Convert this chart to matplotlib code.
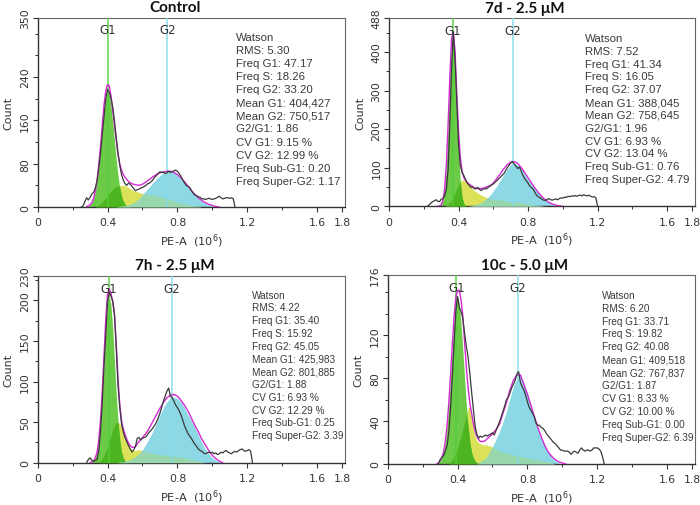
import numpy as np
import matplotlib
matplotlib.use('Agg')
import matplotlib.pyplot as plt
from matplotlib import font_manager
from matplotlib.ticker import MultipleLocator

# grid of the Watson model curves (PE-A, 10^6)
cx = [0.28, 0.29, 0.30, 0.31, 0.32, 0.33, 0.34, 0.35, 0.36, 0.37,
      0.38, 0.39, 0.40, 0.41, 0.42, 0.43, 0.44, 0.45, 0.46, 0.47,
      0.48, 0.49, 0.50, 0.51, 0.52, 0.53, 0.54, 0.55, 0.56,
      0.58, 0.60, 0.62, 0.64, 0.66, 0.68, 0.70, 0.72, 0.74, 0.76,
      0.78, 0.80, 0.82, 0.84, 0.86, 0.88, 0.90, 0.92, 0.94, 0.96,
      0.98, 1.00, 1.02, 1.04, 1.06, 1.08]
# channels of the measured histograms, 0.22 .. 1.28
hx = np.round(np.arange(0.22, 1.285, 0.01), 2)

# ---- Control
ctrl_g1 = [1, 2, 4, 8, 16, 29, 48, 75, 107, 143,
           176, 200, 212, 207, 187, 157, 121, 87, 58, 36,
           20, 11, 5, 2, 1, 0, 0, 0, 0,
           0, 0, 0, 0, 0, 0, 0, 0, 0, 0,
           0, 0, 0, 0, 0, 0, 0, 0, 0, 0,
           0, 0, 0, 0, 0, 0]
ctrl_s = [0, 0, 0, 0, 0, 0, 2, 4, 6, 9,
          13, 17, 22, 26, 30, 33, 36, 38, 39, 40,
          40, 40, 39, 38, 36, 34, 32, 30, 29,
          27, 25, 24, 23, 22, 20, 19, 17, 15, 13,
          11, 9, 7, 6, 4, 3, 2, 1, 0, 0,
          0, 0, 0, 0, 0, 0]
ctrl_g2 = [0, 0, 0, 0, 0, 0, 0, 0, 0, 0,
           0, 0, 0, 0, 0, 0, 0, 0, 1, 1,
           2, 2, 3, 3, 4, 5, 6, 8, 10,
           15, 23, 30, 37, 45, 52, 58, 63, 66, 66,
           64, 59, 52, 45, 37, 29, 22, 16, 11, 7,
           4, 2, 1, 0, 0, 0]
ctrl_fit = [1, 2, 4, 8, 16, 29, 50, 79, 113, 152,
            189, 215, 226, 224, 205, 178, 150, 122, 97, 80,
            68, 60, 55, 51, 47, 45, 43, 42, 41,
            40, 42, 46, 51, 56, 60, 63, 65, 66, 66,
            64, 60, 54, 47, 39, 31, 23, 17, 12, 8,
            5, 3, 1, 0, 0, 0]
ctrl_hist = [0, 0, 0, 0, 2, 10, 17, 13, 18, 24,
             27, 35, 48, 72, 100, 135, 168, 200, 217, 212,
             200, 184, 158, 128, 100, 77, 60, 50, 43, 40,
             44, 42, 38, 34, 30, 32, 33, 35, 36, 38,
             40, 43, 44, 47, 50, 55, 58, 62, 65, 64,
             64, 62, 63, 66, 64, 65, 67, 68, 66, 62,
             57, 50, 45, 40, 38, 36, 30, 26, 22, 21,
             19, 18, 15, 15, 14, 15, 16, 15, 14, 15,
             16, 18, 20, 17, 15, 16, 17, 17, 16, 17,
             15, 0, 0, 0, 0, 0, 0, 0, 0, 0,
             0, 0, 0, 0, 0, 0, 0]

# ---- 7d - 2.5 uM
d7_g1 = [0, 1, 4, 15, 45, 107, 207, 326, 418, 440,
         370, 253, 143, 66, 24, 7, 2, 0, 0, 0,
         0, 0, 0, 0, 0, 0, 0, 0, 0,
         0, 0, 0, 0, 0, 0, 0, 0, 0, 0,
         0, 0, 0, 0, 0, 0, 0, 0, 0, 0,
         0, 0, 0, 0, 0, 0]
d7_s = [0, 0, 0, 0, 0, 2, 5, 10, 17, 26,
        36, 46, 56, 64, 68, 68, 65, 60, 55, 50,
        45, 41, 38, 35, 32, 29, 27, 25, 23,
        20, 18, 17, 16, 15, 13, 12, 11, 10, 9,
        7, 6, 4, 3, 2, 1, 0, 0, 0, 0,
        0, 0, 0, 0, 0, 0]
d7_g2 = [0, 0, 0, 0, 0, 0, 0, 0, 0, 0,
         0, 0, 0, 0, 0, 0, 0, 0, 1, 1,
         2, 3, 4, 5, 7, 9, 12, 15, 20,
         28, 40, 52, 67, 82, 97, 108, 112, 107, 97,
         84, 70, 57, 45, 34, 24, 15, 9, 5, 2,
         1, 0, 0, 0, 0, 0]
d7_fit = [0, 1, 4, 15, 45, 109, 212, 336, 435, 452,
          400, 290, 195, 128, 92, 75, 67, 62, 58, 54,
          52, 48, 47, 46, 46, 46, 47, 48, 50,
          53, 60, 72, 84, 97, 108, 114, 116, 111, 101,
          88, 74, 60, 47, 35, 25, 17, 10, 6, 3,
          1, 0, 0, 0, 0, 0]
d7_hist = [0, 3, 8, 12, 14, 17, 13, 12, 18, 20,
           28, 45, 95, 215, 360, 452, 380, 270, 160, 106,
           88, 80, 70, 60, 55, 49, 50, 46, 45, 49,
           44, 41, 44, 46, 45, 49, 52, 55, 58, 62,
           66, 71, 75, 80, 84, 92, 100, 106, 112, 116,
           110, 104, 98, 102, 92, 80, 72, 66, 60, 52,
           48, 44, 35, 28, 24, 22, 18, 16, 15, 18,
           20, 17, 16, 18, 19, 17, 20, 22, 21, 24,
           23, 26, 25, 27, 26, 28, 26, 28, 29, 27,
           30, 28, 27, 29, 26, 24, 25, 22, 0, 0,
           0, 0, 0, 0, 0, 0, 0]

# ---- 7h - 2.5 uM
h7_g1 = [0, 0, 0, 1, 2, 6, 13, 28, 51, 84,
         124, 164, 194, 205, 194, 164, 124, 84, 51, 28,
         13, 6, 2, 1, 0, 0, 0, 0, 0,
         0, 0, 0, 0, 0, 0, 0, 0, 0, 0,
         0, 0, 0, 0, 0, 0, 0, 0, 0, 0,
         0, 0, 0, 0, 0, 0]
h7_s = [0, 0, 0, 0, 0, 0, 0, 0, 2, 5,
        9, 14, 20, 27, 34, 41, 46, 49, 50, 48,
        44, 38, 32, 26, 21, 18, 16, 15, 15,
        16, 15, 13, 12, 11, 10, 10, 9, 9, 8,
        8, 7, 7, 6, 5, 4, 3, 2, 1, 0,
        0, 0, 0, 0, 0, 0]
h7_g2 = [0, 0, 0, 0, 0, 0, 0, 0, 0, 0,
         0, 0, 0, 0, 0, 0, 0, 0, 0, 1,
         1, 1, 2, 2, 3, 3, 5, 6, 7,
         11, 16, 23, 30, 39, 49, 59, 68, 75, 80,
         81, 79, 75, 68, 59, 52, 43, 34, 25, 17,
         11, 6, 3, 1, 0, 0]
h7_fit = [0, 0, 0, 1, 2, 6, 13, 28, 53, 89,
          133, 178, 208, 214, 208, 198, 182, 145, 104, 72,
          52, 42, 35, 29, 24, 21, 19, 19, 20,
          26, 31, 36, 43, 51, 59, 67, 74, 80, 83,
          84, 82, 77, 71, 64, 55, 46, 38, 29, 22,
          15, 9, 5, 2, 0, 0]
h7_hist = [0, 0, 0, 0, 0, 0, 0, 4, 6, 3,
           2, 3, 4, 15, 40, 75, 120, 157, 198, 210,
           205, 199, 182, 140, 95, 68, 48, 38, 31, 26,
           21, 17, 13, 16, 20, 30, 31, 28, 30, 31,
           32, 35, 38, 40, 43, 46, 50, 55, 61, 68,
           76, 82, 88, 92, 82, 80, 76, 71, 68, 64,
           59, 53, 46, 41, 36, 33, 30, 26, 23, 20,
           17, 15, 14, 12, 11, 12, 13, 12, 13, 11,
           12, 10, 11, 13, 12, 14, 15, 13, 12, 11,
           13, 14, 13, 15, 16, 17, 15, 14, 15, 16,
           14, 0, 0, 0, 0, 0, 0]

# ---- 10c - 5.0 uM
c10_g1 = [0, 1, 3, 6, 11, 21, 36, 56, 81, 107,
          131, 149, 155, 149, 131, 107, 81, 56, 36, 21,
          11, 6, 3, 1, 0, 0, 0, 0, 0,
          0, 0, 0, 0, 0, 0, 0, 0, 0, 0,
          0, 0, 0, 0, 0, 0, 0, 0, 0, 0,
          0, 0, 0, 0, 0, 0]
c10_s = [0, 0, 0, 0, 0, 0, 0, 0, 2, 4,
         7, 11, 15, 20, 26, 32, 39, 46, 52, 53,
         44, 34, 26, 22, 20, 19, 18, 18, 18,
         17, 16, 14, 12, 11, 10, 9, 8, 8, 7,
         6, 6, 5, 4, 4, 3, 2, 2, 1, 0,
         0, 0, 0, 0, 0, 0]
c10_g2 = [0, 0, 0, 0, 0, 0, 0, 0, 0, 0,
          0, 0, 0, 0, 0, 0, 0, 0, 0, 0,
          0, 0, 0, 0, 1, 2, 3, 4, 5,
          10, 16, 23, 30, 39, 49, 61, 72, 80, 82,
          76, 66, 54, 42, 33, 25, 17, 11, 6, 3,
          1, 0, 0, 0, 0, 0]
c10_fit = [0, 1, 3, 6, 11, 21, 36, 57, 83, 111,
           137, 155, 161, 162, 153, 138, 114, 91, 72, 57,
           48, 38, 31, 26, 23, 21, 21, 21, 22,
           25, 28, 32, 37, 47, 57, 69, 78, 83, 83,
           74, 65, 55, 44, 34, 25, 17, 11, 7, 4,
           2, 1, 0, 0, 0, 0]
c10_hist = [0, 0, 0, 0, 0, 0, 0, 0, 4, 6,
            8, 12, 17, 30, 52, 80, 112, 142, 156, 146,
            142, 136, 122, 110, 100, 85, 68, 52, 36, 28,
            24, 26, 25, 26, 27, 26, 27, 28, 29, 27,
            31, 35, 39, 44, 49, 54, 60, 62, 66, 71,
            74, 78, 84, 86, 76, 72, 69, 64, 58, 53,
            50, 47, 44, 38, 36, 36, 34, 33, 31, 28,
            26, 24, 22, 20, 19, 17, 15, 13, 13, 12,
            12, 12, 11, 9, 11, 12, 11, 10, 13, 15,
            13, 12, 13, 13, 12, 13, 15, 15, 15, 14,
            12, 7, 0, 0, 0, 0, 0]

titles = ['Control', '7d - 2.5 μM', '7h - 2.5 μM', '10c - 5.0 μM']
y_max = [350, 488, 230, 176]
y_ticks = [[0, 80, 160, 240, 350], [0, 100, 200, 300, 400, 488],
           [0, 50, 100, 150, 200, 230], [0, 40, 80, 120, 176]]
y_minor = [40, 50, 25, 20]
g1_pos = [0.402, 0.366, 0.407, 0.394]
g2_pos = [0.743, 0.712, 0.769, 0.747]
x_ticks = [0, 0.4, 0.8, 1.2, 1.6, 1.745]
x_tick_labels = ['0', '0.4', '0.8', '1.2', '1.6', '1.8']

stats = [
    ['Watson', 'RMS: 5.30', 'Freq G1: 47.17', 'Freq S: 18.26', 'Freq G2: 33.20',
     'Mean G1: 404,427', 'Mean G2: 750,517', 'G2/G1: 1.86', 'CV G1: 9.15 %',
     'CV G2: 12.99 %', 'Freq Sub-G1: 0.20', 'Freq Super-G2: 1.17'],
    ['Watson', 'RMS: 7.52', 'Freq G1: 41.34', 'Freq S: 16.05', 'Freq G2: 37.07',
     'Mean G1: 388,045', 'Mean G2: 758,645', 'G2/G1: 1.96', 'CV G1: 6.93 %',
     'CV G2: 13.04 %', 'Freq Sub-G1: 0.76', 'Freq Super-G2: 4.79'],
    ['Watson', 'RMS: 4.22', 'Freq G1: 35.40', 'Freq S: 15.92', 'Freq G2: 45.05',
     'Mean G1: 425,983', 'Mean G2: 801,885', 'G2/G1: 1.88', 'CV G1: 6.93 %',
     'CV G2: 12.29 %', 'Freq Sub-G1: 0.25', 'Freq Super-G2: 3.39'],
    ['Watson', 'RMS: 6.20', 'Freq G1: 33.71', 'Freq S: 19.82', 'Freq G2: 40.08',
     'Mean G1: 409,518', 'Mean G2: 767,837', 'G2/G1: 1.87', 'CV G1: 8.33 %',
     'CV G2: 10.00 %', 'Freq Sub-G1: 0.00', 'Freq Super-G2: 6.39'],
]

curves = [
    (ctrl_g1, ctrl_s, ctrl_g2, ctrl_fit, ctrl_hist),
    (d7_g1, d7_s, d7_g2, d7_fit, d7_hist),
    (h7_g1, h7_s, h7_g2, h7_fit, h7_hist),
    (c10_g1, c10_s, c10_g2, c10_fit, c10_hist),
]

# axes boxes in pixels (left, top, right, bottom) of a 700x506 canvas
boxes = [(37.7, 18.5, 345, 208), (389, 19, 695, 207.3),
         (37.7, 277, 345, 463.7), (387.7, 276, 695, 465)]
# stats block: x, first line y, last line y (axes fraction)
text_pos = [(0.646, 0.896, 0.139), (0.640, 0.894, 0.145),
            (0.697, 0.900, 0.147), (0.697, 0.896, 0.143)]

# the lower two panels use a narrow face in the original
installed = {f.name for f in font_manager.fontManager.ttflist}
if 'Liberation Sans Narrow' in installed:
    narrow = (['Liberation Sans Narrow', 'DejaVu Sans'], 8.2)
else:
    narrow = (['Liberation Sans', 'DejaVu Sans'], 7.2)
text_font = [(['Liberation Sans', 'DejaVu Sans'], 8.2),
             (['Liberation Sans', 'DejaVu Sans'], 8.2), narrow, narrow]

GREEN = '#6bcb47'
DKGREEN = '#4db51f'
YELLOW = '#dbe25a'
CYAN = '#8cd8e4'
MINT = '#97d7ab'
INK = '#333333'


def trimmed(x, y):
    x = np.asarray(x)
    y = np.asarray(y, dtype=float)
    nz = np.nonzero(y)[0]
    lo = max(nz[0] - 1, 0)
    hi = min(nz[-1] + 2, len(y))
    return x[lo:hi], y[lo:hi]


def draw_panel(ax, i):
    g1, s, g2, fit, hist = [np.asarray(c, dtype=float) for c in curves[i]]
    x = np.asarray(cx)

    ax.fill_between(x, 0, s, color=YELLOW, lw=0, zorder=1)
    ax.fill_between(x, 0, g1, color=GREEN, lw=0, zorder=2)
    ax.fill_between(x, 0, g2, color=CYAN, lw=0, zorder=2)
    ax.fill_between(x, 0, np.minimum(g1, s), color=DKGREEN, lw=0, zorder=3)
    ax.fill_between(x, 0, np.minimum(g2, s), color=MINT, lw=0, zorder=3)

    ax.axvline(g1_pos[i], color='#52cf3c', lw=1.1, alpha=0.9, zorder=4)
    ax.axvline(g2_pos[i], color='#86dbe8', lw=1.1, alpha=0.95, zorder=4)
    ax.text(g1_pos[i], 0.935, 'G1', transform=ax.get_xaxis_transform(),
            ha='center', va='center', fontsize=8.5, color=INK, zorder=6)
    ax.text(g2_pos[i], 0.935, 'G2', transform=ax.get_xaxis_transform(),
            ha='center', va='center', fontsize=8.5, color=INK, zorder=6)

    fxx, fyy = trimmed(x, fit)
    ax.plot(fxx, fyy, color='#d42ad2', lw=1.0, zorder=5)
    hxx, hyy = trimmed(hx, hist)
    ax.plot(hxx, hyy, color='#3a3a3a', lw=0.9, zorder=5)

    ax.set_xlim(0, 1.76)
    ax.set_ylim(0, y_max[i])
    ax.set_xticks(x_ticks)
    ax.set_xticklabels(x_tick_labels)
    ax.xaxis.set_minor_locator(MultipleLocator(0.2))
    ax.set_yticks(y_ticks[i])
    ax.yaxis.set_minor_locator(MultipleLocator(y_minor[i]))
    ax.tick_params(which='both', direction='out', colors=INK, labelsize=7.8,
                   top=False, right=False)
    ax.tick_params(which='major', length=3.5, width=0.8)
    ax.tick_params(which='minor', length=2, width=0.7)
    ax.tick_params(axis='x', pad=4)
    ax.tick_params(axis='y', pad=2)
    for lbl in ax.get_yticklabels():
        lbl.set_rotation(90)
        lbl.set_va('center')
    for side in ['left', 'bottom']:
        ax.spines[side].set_color('#333333')
        ax.spines[side].set_linewidth(1.0)
    for side in ['top', 'right']:
        ax.spines[side].set_color('#666666')
        ax.spines[side].set_linewidth(0.8)

    ax.set_ylabel('Count', fontsize=8, color=INK)
    ax.yaxis.set_label_coords(-0.078, 0.5)
    ax.set_xlabel('PE-A  (10$^6$)', fontsize=8.2, color=INK)
    ax.xaxis.set_label_coords(0.5, -0.13)

    tx, ty0, ty1 = text_pos[i]
    family, size = text_font[i]
    for line, ty in zip(stats[i], np.linspace(ty0, ty1, len(stats[i]))):
        ax.text(tx, ty, line, transform=ax.transAxes, ha='left', va='center',
                fontsize=size, color='#3a3a3a', family=family, zorder=6)


def main():
    W, H = 700, 506
    fig = plt.figure(figsize=(7.0, 5.06), dpi=100)
    for i, (l, t, r, b) in enumerate(boxes):
        ax = fig.add_axes([l / W, 1 - b / H, (r - l) / W, (b - t) / H])
        draw_panel(ax, i)

    title_xy = [(0.25, 8.5), (0.75, 8.5), (0.25, 266.5), (0.75, 266.5)]
    for (tx, ty), title in zip(title_xy, titles):
        fig.text(tx, 1 - ty / H, title, ha='center', va='center',
                 fontsize=11, fontweight='bold', color='#111111',
                 family=['Lato', 'DejaVu Sans'])

    fig.savefig('out.png', dpi=100)


if __name__ == '__main__':
    main()
